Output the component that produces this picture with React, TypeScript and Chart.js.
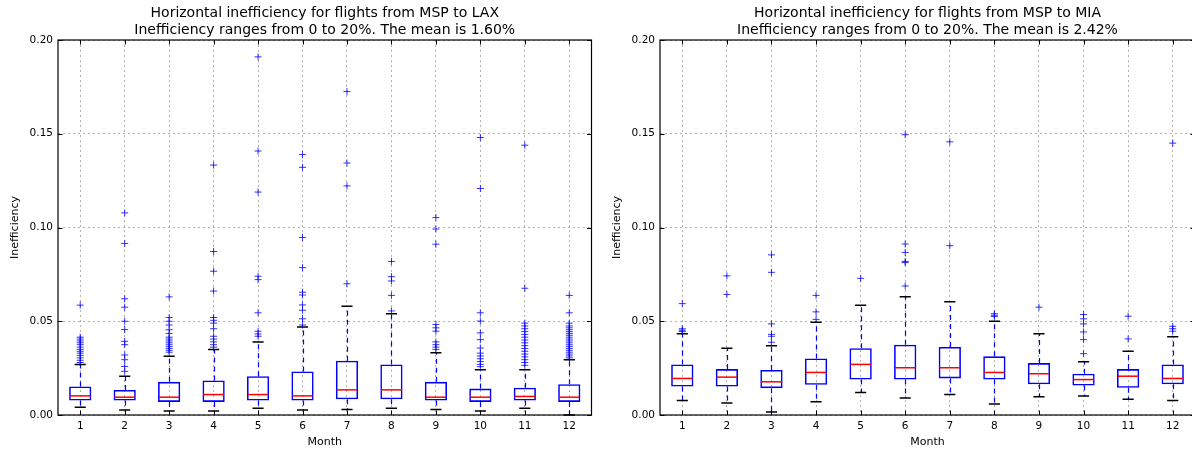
import React, { useEffect, useRef } from 'react';
import { Chart, registerables } from 'chart.js';
Chart.register(...registerables);

const MONTHS = ['1', '2', '3', '4', '5', '6', '7', '8', '9', '10', '11', '12'];

// MSP -> LAX
const LAX_TITLE = ['Horizontal inefficiency for flights from MSP to LAX', 'Inefficiency ranges from 0 to 20%. The mean is 1.60%'];
const LAX_Q1 = [0.0077, 0.0077, 0.0070, 0.0070, 0.0077, 0.0077, 0.0084, 0.0084, 0.0077, 0.0070, 0.0077, 0.0070];
const LAX_MED = [0.0102, 0.0095, 0.0095, 0.0109, 0.0109, 0.0102, 0.0134, 0.0134, 0.0095, 0.0095, 0.0099, 0.0095];
const LAX_Q3 = [0.0152, 0.0134, 0.0177, 0.0184, 0.0207, 0.0232, 0.0290, 0.0270, 0.0177, 0.0141, 0.0146, 0.0164];
const LAX_LO = [0.0041, 0.0027, 0.0021, 0.0021, 0.0036, 0.0027, 0.0029, 0.0036, 0.0029, 0.0021, 0.0036, 0.0000];
const LAX_HI = [0.0270, 0.0207, 0.0313, 0.0350, 0.0390, 0.0470, 0.0580, 0.0540, 0.0332, 0.0241, 0.0241, 0.0295];
const LAX_FLIERS = [
  [0.0586, 0.0415, 0.0405, 0.0395, 0.0385, 0.0375, 0.0362, 0.0350, 0.0340, 0.0330, 0.0318, 0.0305, 0.0292, 0.0280],
  [0.1078, 0.0915, 0.0620, 0.0575, 0.0500, 0.0456, 0.0393, 0.0375, 0.0320, 0.0295, 0.0259, 0.0233],
  [0.0630, 0.0520, 0.0500, 0.0480, 0.0455, 0.0435, 0.0415, 0.0405, 0.0395, 0.0385, 0.0375, 0.0365, 0.0355, 0.0345, 0.0335],
  [0.1333, 0.0872, 0.0767, 0.0661, 0.0520, 0.0505, 0.0490, 0.0460, 0.0420, 0.0405, 0.0390, 0.0375, 0.0362],
  [0.1910, 0.1408, 0.1189, 0.0740, 0.0722, 0.0545, 0.0447, 0.0432, 0.0420],
  [0.1389, 0.1321, 0.0947, 0.0786, 0.0655, 0.0640, 0.0587, 0.0559, 0.0513, 0.0480],
  [0.1725, 0.1344, 0.1222, 0.0700],
  [0.0819, 0.0738, 0.0715, 0.0638, 0.0555],
  [0.1053, 0.0992, 0.0911, 0.0483, 0.0465, 0.0447, 0.0390, 0.0375, 0.0362, 0.0350],
  [0.1480, 0.1208, 0.0545, 0.0501, 0.0438, 0.0402, 0.0357, 0.0330, 0.0315, 0.0300, 0.0285, 0.0270, 0.0258],
  [0.1439, 0.0676, 0.0490, 0.0475, 0.0460, 0.0445, 0.0430, 0.0415, 0.0400, 0.0385, 0.0370, 0.0355, 0.0340, 0.0325, 0.0310, 0.0295, 0.0280, 0.0265],
  [0.0638, 0.0545, 0.0490, 0.0475, 0.0465, 0.0455, 0.0445, 0.0435, 0.0425, 0.0415, 0.0405, 0.0395, 0.0385, 0.0375, 0.0365, 0.0355, 0.0345, 0.0335, 0.0325, 0.0315, 0.0305],
];

// MSP -> MIA
const MIA_TITLE = ['Horizontal inefficiency for flights from MSP to MIA', 'Inefficiency ranges from 0 to 20%. The mean is 2.42%'];
const MIA_Q1 = [0.0152, 0.0152, 0.0143, 0.0161, 0.0189, 0.0189, 0.0195, 0.0189, 0.0164, 0.0157, 0.0145, 0.0164];
const MIA_MED = [0.0195, 0.0202, 0.0177, 0.0227, 0.0270, 0.0252, 0.0252, 0.0227, 0.0220, 0.0189, 0.0207, 0.0195];
const MIA_Q3 = [0.0270, 0.0245, 0.0240, 0.0302, 0.0356, 0.0375, 0.0363, 0.0313, 0.0277, 0.0220, 0.0245, 0.0270];
const MIA_LO = [0.0077, 0.0064, 0.0016, 0.0071, 0.0120, 0.0091, 0.0109, 0.0059, 0.0097, 0.0102, 0.0084, 0.0077];
const MIA_HI = [0.0433, 0.0356, 0.0370, 0.0495, 0.0586, 0.0631, 0.0604, 0.0500, 0.0433, 0.0284, 0.0340, 0.0418];
const MIA_FLIERS = [
  [0.0594, 0.0460, 0.0452, 0.0445],
  [0.0742, 0.0643],
  [0.0854, 0.0761, 0.0486, 0.0430, 0.0420, 0.0388],
  [0.0638, 0.0550, 0.0510],
  [0.0729],
  [0.1495, 0.0912, 0.0867, 0.0819, 0.0813, 0.0688],
  [0.1457, 0.0903],
  [0.0540, 0.0532, 0.0525],
  [0.0575],
  [0.0536, 0.0513, 0.0486, 0.0443, 0.0402, 0.0327],
  [0.0527, 0.0406],
  [0.1450, 0.0473, 0.0460, 0.0447],
];

const Y_TICKS = [0, 0.05, 0.1, 0.15, 0.2];
const FONT = '"DejaVu Sans", sans-serif';

type BoxData = {
  title: string[];
  q1: number[];
  med: number[];
  q3: number[];
  lo: number[];
  hi: number[];
  fliers: number[][];
};

function makePlugin(d: BoxData) {
  return {
    id: 'boxExtras',
    beforeDatasetsDraw(chart: any) {
      const ctx = chart.ctx;
      const xs = chart.scales.x;
      const ys = chart.scales.y;
      ctx.save();
      ctx.strokeStyle = '#0000ff';
      ctx.lineWidth = 1.2;
      ctx.setLineDash([5, 4]);
      MONTHS.forEach((_, i) => {
        const x = Math.round(xs.getPixelForValue(i)) + 0.5;
        ctx.beginPath();
        ctx.moveTo(x, ys.getPixelForValue(d.q3[i]));
        ctx.lineTo(x, ys.getPixelForValue(d.hi[i]));
        ctx.moveTo(x, ys.getPixelForValue(d.q1[i]));
        ctx.lineTo(x, ys.getPixelForValue(d.lo[i]));
        ctx.stroke();
      });
      ctx.restore();
    },
    afterDatasetsDraw(chart: any) {
      const ctx = chart.ctx;
      const xs = chart.scales.x;
      const ys = chart.scales.y;
      const meta = chart.getDatasetMeta(0);
      ctx.save();
      MONTHS.forEach((_, i) => {
        const x = xs.getPixelForValue(i);
        const w = meta.data[i] ? meta.data[i].width : 22;
        // caps
        ctx.strokeStyle = '#000000';
        ctx.lineWidth = 1.5;
        ctx.beginPath();
        [d.lo[i], d.hi[i]].forEach((v) => {
          const y = ys.getPixelForValue(v);
          ctx.moveTo(x - w / 4, y);
          ctx.lineTo(x + w / 4, y);
        });
        ctx.stroke();
        // median
        ctx.strokeStyle = '#ff0000';
        ctx.lineWidth = 1.5;
        ctx.beginPath();
        const ym = ys.getPixelForValue(d.med[i]);
        ctx.moveTo(x - w / 2 + 1, ym);
        ctx.lineTo(x + w / 2 - 1, ym);
        ctx.stroke();
      });
      ctx.restore();
    },
    afterDraw(chart: any) {
      const ctx = chart.ctx;
      const a = chart.chartArea;
      const xs = chart.scales.x;
      const ys = chart.scales.y;
      ctx.save();
      // frame
      ctx.strokeStyle = '#000000';
      ctx.lineWidth = 1.2;
      ctx.strokeRect(a.left, a.top, a.right - a.left, a.bottom - a.top);
      // inward ticks
      ctx.lineWidth = 1;
      ctx.beginPath();
      Y_TICKS.forEach((v) => {
        const y = Math.round(ys.getPixelForValue(v)) + 0.5;
        ctx.moveTo(a.left, y);
        ctx.lineTo(a.left + 4.5, y);
        ctx.moveTo(a.right, y);
        ctx.lineTo(a.right - 4.5, y);
      });
      MONTHS.forEach((_, i) => {
        const x = Math.round(xs.getPixelForValue(i)) + 0.5;
        ctx.moveTo(x, a.bottom);
        ctx.lineTo(x, a.bottom - 4.5);
        ctx.moveTo(x, a.top);
        ctx.lineTo(x, a.top + 4.5);
      });
      ctx.stroke();
      // titles
      const cx = (a.left + a.right) / 2;
      ctx.fillStyle = '#000000';
      ctx.textAlign = 'center';
      ctx.textBaseline = 'alphabetic';
      ctx.font = `14px ${FONT}`;
      ctx.fillText(d.title[0], cx, 17);
      ctx.fillText(d.title[1], cx, 34);
      ctx.font = `11px ${FONT}`;
      ctx.textBaseline = 'middle';
      ctx.fillText('Month', cx, a.bottom + 27);
      ctx.save();
      ctx.translate(a.left - 43, (a.top + a.bottom) / 2);
      ctx.rotate(-Math.PI / 2);
      ctx.fillText('Inefficiency', 0, 0);
      ctx.restore();
      ctx.restore();
    },
  };
}

function makeConfig(d: BoxData, yWidth: number, padRight: number): any {
  const flierPoints = d.fliers.flatMap((arr, i) => arr.map((v) => ({ x: MONTHS[i], y: v })));
  const gridCommon = { color: '#b0b0b0', lineWidth: 1, drawTicks: false };
  const borderCommon = { display: false, dash: [2, 3] };
  const tickFont = { family: FONT, size: 10.5 };
  return {
    type: 'bar',
    data: {
      labels: MONTHS,
      datasets: [
        {
          type: 'bar',
          data: MONTHS.map((_, i) => [d.q1[i], d.q3[i]]),
          backgroundColor: 'rgba(0,0,0,0)',
          borderColor: '#0000ff',
          borderWidth: 1.6,
          borderSkipped: false,
          barPercentage: 0.5,
          categoryPercentage: 1,
          order: 2,
        },
        {
          type: 'line',
          data: flierPoints,
          showLine: false,
          pointStyle: 'cross',
          pointRadius: 3.5,
          pointHoverRadius: 3.5,
          pointBorderColor: 'rgba(0,0,255,0.8)',
          pointBorderWidth: 1,
          pointBackgroundColor: 'rgba(0,0,0,0)',
          order: 1,
        },
      ],
    },
    options: {
      responsive: false,
      animation: false,
      events: [],
      layout: { padding: { left: 0, right: padRight, top: 40, bottom: 0 } },
      plugins: {
        legend: { display: false },
        title: { display: false },
        tooltip: { enabled: false },
      },
      scales: {
        x: {
          type: 'category',
          offset: true,
          grid: { ...gridCommon, offset: false },
          border: borderCommon,
          ticks: { color: '#000', font: tickFont, padding: 5, maxRotation: 0, autoSkip: false },
          afterFit: (s: any) => {
            s.height = 38;
          },
        },
        y: {
          type: 'linear',
          min: 0,
          max: 0.2,
          grid: gridCommon,
          border: borderCommon,
          ticks: {
            stepSize: 0.05,
            color: '#000',
            font: tickFont,
            padding: 5,
            callback: (v: any) => Number(v).toFixed(2),
          },
          afterFit: (s: any) => {
            s.width = yWidth;
          },
        },
      },
    },
    plugins: [makePlugin(d)],
  };
}

function BoxChart({ data, width, yWidth, padRight, left }: { data: BoxData; width: number; yWidth: number; padRight: number; left: number }) {
  const ref = useRef<HTMLCanvasElement>(null);
  useEffect(() => {
    const chart = new Chart(ref.current as HTMLCanvasElement, makeConfig(data, yWidth, padRight));
    return () => chart.destroy();
  }, []);
  return (
    <canvas
      ref={ref}
      width={width}
      height={453}
      style={{ position: 'absolute', left, top: 0, width, height: 453, display: 'block' }}
    />
  );
}

export default function App() {
  const lax: BoxData = { title: LAX_TITLE, q1: LAX_Q1, med: LAX_MED, q3: LAX_Q3, lo: LAX_LO, hi: LAX_HI, fliers: LAX_FLIERS };
  const mia: BoxData = { title: MIA_TITLE, q1: MIA_Q1, med: MIA_MED, q3: MIA_Q3, lo: MIA_LO, hi: MIA_HI, fliers: MIA_FLIERS };
  return (
    <div style={{ position: 'absolute', left: 0, top: 0, width: 1192, height: 453, overflow: 'hidden', background: '#ffffff' }}>
      <BoxChart data={lax} width={596} yWidth={58} padRight={3} left={0} />
      <BoxChart data={mia} width={604} yWidth={64} padRight={5} left={596} />
    </div>
  );
}
